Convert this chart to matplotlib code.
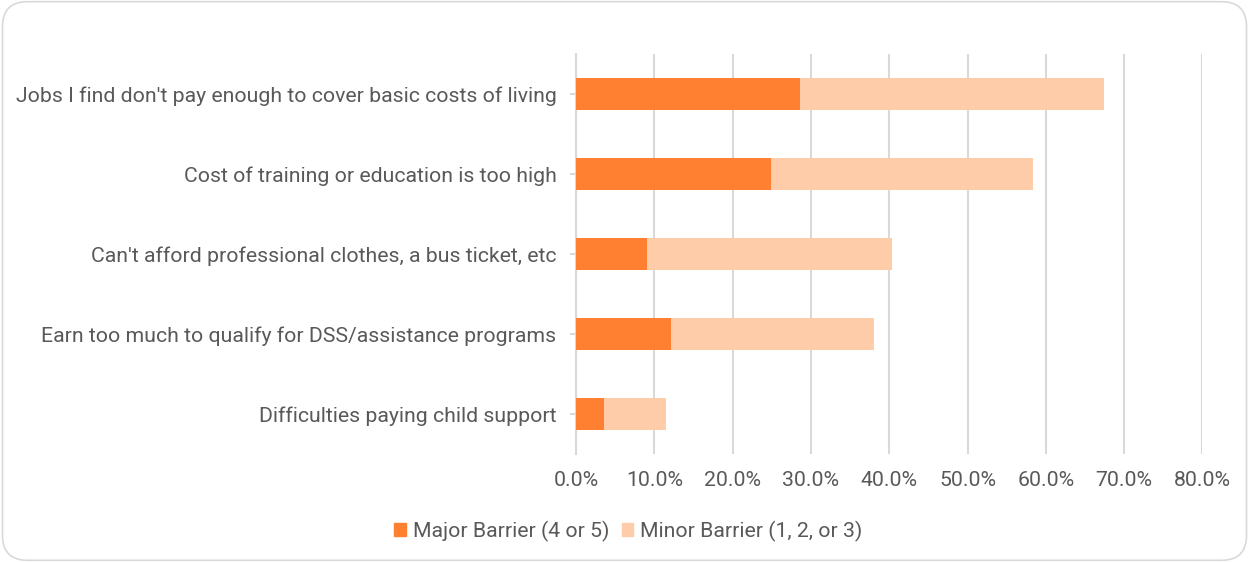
import matplotlib
matplotlib.use("Agg")
import matplotlib.pyplot as plt
from matplotlib.patches import FancyBboxPatch, Patch
from matplotlib.ticker import FuncFormatter

# data (percent)
categories = [
    "Jobs I find don't pay enough to cover basic costs of living",
    "Cost of training or education is too high",
    "Can't afford professional clothes, a bus ticket, etc",
    "Earn too much to qualify for DSS/assistance programs",
    "Difficulties paying child support",
]
major = [28.6, 24.9, 9.1, 12.1, 3.6]
minor = [38.8, 33.5, 31.3, 25.9, 7.9]
series_names = ["Major Barrier (4 or 5)", "Minor Barrier (1, 2, or 3)"]
xticks = [0, 10, 20, 30, 40, 50, 60, 70, 80]

c_major = "#FF8030"
c_minor = "#FFCCAA"
txt = "#595959"
grid = "#D9D9D9"
fs = 15.3

plt.rcParams["font.family"] = ["Roboto", "DejaVu Sans"]

fig = plt.figure(figsize=(12.49, 5.62), dpi=100)
ax = fig.add_axes([0.4612, 0.1922, 0.9627 - 0.4612, 0.9039 - 0.1922])

y = list(range(len(categories)))
ax.barh(y, major, height=0.4, color=c_major, label=series_names[0], zorder=3)
ax.barh(y, minor, left=major, height=0.4, color=c_minor, label=series_names[1], zorder=3)

ax.set_xlim(0, 80)
ax.set_ylim(len(categories) - 0.5, -0.5)
ax.set_xticks(xticks)
ax.xaxis.set_major_formatter(FuncFormatter(lambda v, p: "%.1f%%" % v))
ax.set_yticks(y)
ax.set_yticklabels(categories)

ax.grid(axis="x", color=grid, linewidth=1.5, zorder=0)
for s in ["top", "right", "bottom"]:
    ax.spines[s].set_visible(False)
ax.spines["left"].set_color(grid)
ax.spines["left"].set_linewidth(1.5)
ax.tick_params(axis="x", length=0, labelsize=fs, colors=txt, pad=12.5)
ax.tick_params(axis="y", length=4, width=1.5, color=grid, labelsize=fs,
               labelcolor=txt, pad=10)

handles = [Patch(color=c_major), Patch(color=c_minor)]
fig.legend(handles, series_names, loc="center", bbox_to_anchor=(0.503, 0.055),
           ncol=2, frameon=False, fontsize=fs, labelcolor=txt,
           handlelength=0.55, handleheight=0.55, handletextpad=0.3,
           columnspacing=0.6)

# rounded chart border
border = FancyBboxPatch((0.002, 0.003), 0.996, 0.994,
                        boxstyle="round,pad=0,rounding_size=0.02",
                        transform=fig.transFigure, facecolor="none",
                        edgecolor="#D9D9D9", linewidth=1.2,
                        mutation_aspect=1249 / 562)
fig.patches.append(border)

fig.savefig("out.png", dpi=100, facecolor="white")
